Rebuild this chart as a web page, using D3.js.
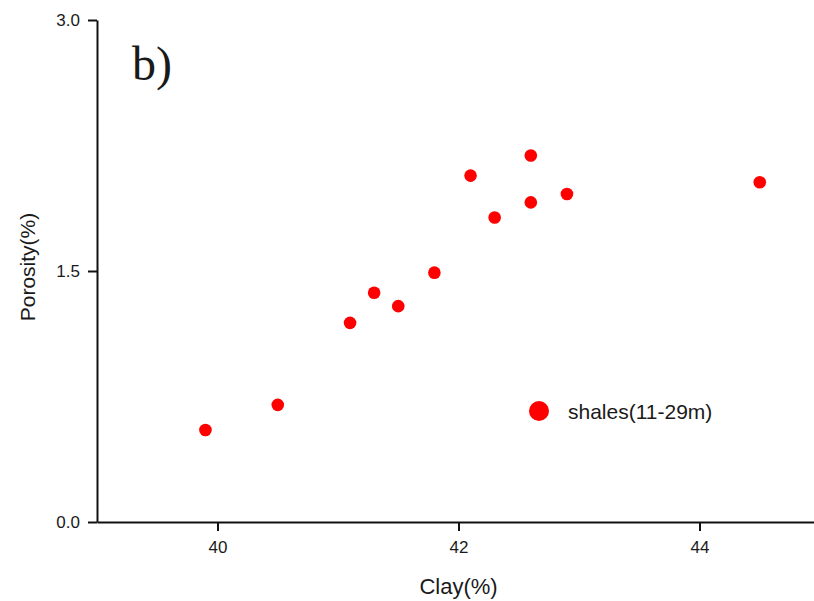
<!DOCTYPE html>
<html>
<head>
<meta charset="utf-8">
<script src="https://cdn.jsdelivr.net/npm/d3@7"></script>
<style>
  body { margin: 0; background: #fff; }
  text { font-family: "Liberation Sans", Arial, sans-serif; fill: #1a1a1a; }
</style>
</head>
<body>
<div id="chart"></div>
<script>
// données
const clay = [39.9, 40.5, 41.1, 41.3, 41.5, 41.8, 42.1, 42.3, 42.6, 42.6, 42.9, 44.5];
const porosity = [0.55, 0.70, 1.19, 1.37, 1.29, 1.49, 2.07, 1.82, 2.19, 1.91, 1.96, 2.03];
const xTicks = [40, 42, 44];
const yTicks = [0.0, 1.5, 3.0];
const seriesName = "shales(11-29m)";

const width = 814, height = 601;
const margin = {left: 97, top: 20, bottom: 79};

const svg = d3.select("#chart").append("svg")
    .attr("width", width)
    .attr("height", height);

const x = d3.scaleLinear().domain([39, 45]).range([margin.left, margin.left + 6 * 120.5]);
const y = d3.scaleLinear().domain([0, 3]).range([height - margin.bottom, margin.top]);

// axe x
svg.append("g")
    .attr("transform", `translate(0,${y(0)})`)
    .call(d3.axisBottom(x).tickValues(xTicks).tickFormat(d3.format("d")).tickSize(9).tickPadding(10).tickSizeOuter(0));

// axe y
svg.append("g")
    .attr("transform", `translate(${margin.left},0)`)
    .call(d3.axisLeft(y).tickValues(yTicks).tickFormat(d3.format(".1f")).tickSize(9).tickPadding(8).tickSizeOuter(0));

svg.selectAll(".domain").attr("stroke", "#111").attr("stroke-width", 2);
svg.selectAll(".tick line").attr("stroke", "#111").attr("stroke-width", 2);
svg.selectAll(".tick text").style("font-size", "17px").attr("fill", "#1a1a1a");

// points
svg.append("g").selectAll("circle")
    .data(clay)
    .enter()
    .append("circle")
    .attr("cx", (d, i) => x(d))
    .attr("cy", (d, i) => y(porosity[i]))
    .attr("r", 6.3)
    .attr("fill", "#ff0000");

// titres des axes
svg.append("text")
    .attr("x", x(42))
    .attr("y", 594)
    .attr("text-anchor", "middle")
    .style("font-size", "22px")
    .text("Clay(%)");

svg.append("text")
    .attr("transform", `translate(35,${y(1.5) - 4}) rotate(-90)`)
    .attr("text-anchor", "middle")
    .style("font-size", "21px")
    .text("Porosity(%)");

// étiquette du panneau
svg.append("text")
    .attr("x", 132)
    .attr("y", 80)
    .style("font-family", "'Liberation Serif', 'Times New Roman', serif")
    .style("font-size", "48px")
    .text("b)");

// légende
svg.append("circle")
    .attr("cx", 539)
    .attr("cy", 411)
    .attr("r", 10)
    .attr("fill", "#ff0000");
svg.append("text")
    .attr("x", 568)
    .attr("y", 419)
    .style("font-size", "21px")
    .text(seriesName);
</script>
</body>
</html>
